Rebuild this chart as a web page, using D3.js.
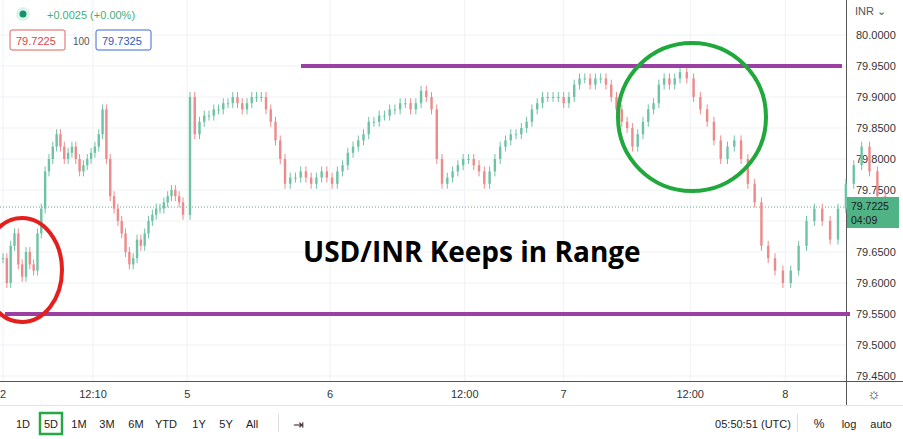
<!DOCTYPE html>
<html><head><meta charset="utf-8">
<script src="https://cdn.jsdelivr.net/npm/d3@7"></script>
<style>body{margin:0;background:#fff;font-family:"Liberation Sans",Arial,sans-serif}</style>
</head><body><div id="chart"></div>
<script>
// closing prices, one per candle (open = previous close)
const closes = [79.64,79.60,79.66,79.68,79.63,79.61,79.65,79.63,79.62,79.68,79.72,79.78,79.80,79.82,79.84,79.82,79.80,79.81,79.82,79.80,79.78,79.79,79.80,79.81,79.82,79.84,79.88,79.80,79.74,79.72,79.70,79.68,79.65,79.63,79.64,79.67,79.66,79.68,79.70,79.71,79.72,79.72,79.73,79.74,79.75,79.74,79.73,79.71,
  79.90,79.84,79.86,79.87,79.87,79.88,79.88,79.89,79.89,79.90,79.89,79.88,79.89,79.90,79.90,79.90,79.88,79.86,79.83,79.80,79.76,79.77,79.77,79.78,79.77,79.76,79.77,79.78,79.77,79.76,79.78,79.79,79.81,79.82,79.83,79.84,79.86,79.86,79.87,79.87,79.88,79.88,79.89,79.89,79.88,79.89,79.91,79.90,79.88,79.80,79.76,79.77,79.78,79.79,79.80,79.80,79.79,79.78,79.76,79.78,79.80,79.82,79.83,79.84,79.84,79.85,79.86,79.88,79.89,79.90,79.90,79.90,79.90,79.89,79.90,79.92,79.93,79.93,79.92,79.93,79.93,79.92,79.90,79.88,79.86,79.85,79.82,79.84,79.86,79.88,79.89,79.92,79.93,79.92,79.93,79.94,79.93,79.90,79.88,79.86,79.83,79.80,79.82,79.83,79.80,79.76,79.73,79.66,79.64,79.62,79.60,79.62,79.66,79.70,79.72,79.70,79.67,79.72,79.76,79.79,79.82,79.78,79.74,79.72];
// candle index -> time position anchors (sessions are uneven)
const timeAnchorIdx = [0, 47, 48, 68, 98, 143, 157, 165];
const timeAnchorPx = [3, 183, 190, 285, 442, 680, 775, 838];
const yTicks = [80.00,79.95,79.90,79.85,79.80,79.75,79.70,79.65,79.60,79.55,79.50,79.45];
const xTickLabels = ['2','12:10','5','6','12:00','7','12:00','8'];
const xTickIdx = [0, 23.5, 47.6, 76.6, 102.3, 121, 144.5, 158.3];
const rangeTop = 79.95, rangeBottom = 79.55, lastPrice = 79.7225;
const buttons = ['1D','5D','1M','3M','6M','YTD','1Y','5Y','All'];

const W = 903, H = 439;
const svg = d3.select('#chart').append('svg').attr('width', W).attr('height', H);
const x = d3.scaleLinear().domain(timeAnchorIdx).range(timeAnchorPx);
const y = d3.scaleLinear().domain([79.45, 80.0]).range([376, 35]);
const grid = '#eef1f5';

// grid
svg.append('g').selectAll('line').data(yTicks).enter().append('line')
  .attr('x1', 0).attr('x2', 846).attr('y1', d => y(d)).attr('y2', d => y(d)).attr('stroke', grid);
svg.append('g').selectAll('line').data(xTickIdx).enter().append('line')
  .attr('x1', d => x(d)).attr('x2', d => x(d)).attr('y1', 0).attr('y2', 381).attr('stroke', grid);

// right axis
svg.append('line').attr('x1', 846.5).attr('x2', 846.5).attr('y1', 0).attr('y2', 405).attr('stroke', '#555');
svg.append('line').attr('x1', 0).attr('x2', 903).attr('y1', 381.5).attr('y2', 381.5).attr('stroke', '#555');
svg.append('g').selectAll('text').data(yTicks).enter().append('text')
  .attr('x', 856).attr('y', d => y(d) + 4).attr('font-size', 11).attr('fill', '#333')
  .text(d => d.toFixed(4));
svg.append('text').attr('x', 855).attr('y', 15).attr('font-size', 11).attr('fill', '#555').text('INR ⌄');

// x axis labels
svg.append('g').selectAll('text').data(xTickIdx).enter().append('text')
  .attr('x', (d, i) => i === 0 ? 3 : x(d)).attr('y', 398).attr('text-anchor', 'middle')
  .attr('font-size', 11).attr('fill', '#333').text((d, i) => xTickLabels[i]);
svg.append('text').attr('x', 874).attr('y', 399).attr('text-anchor', 'middle').attr('font-size', 15).attr('fill', '#333').text('☼');

// last price line
svg.append('line').attr('x1', 0).attr('x2', 846).attr('y1', y(lastPrice)).attr('y2', y(lastPrice))
  .attr('stroke', '#6aa88f').attr('stroke-dasharray', '1,2');

// candles
const cw = 2.4;
const candles = svg.append('g');
closes.forEach((c, i) => {
  const o = i === 0 ? c : closes[i - 1];
  const up = c >= o;
  const col = up ? '#6fc3a5' : '#ee8a8a';
  const top = Math.max(o, c), bot = Math.min(o, c);
  candles.append('line').attr('x1', x(i)).attr('x2', x(i))
    .attr('y1', y(top + 0.008)).attr('y2', y(bot - 0.008)).attr('stroke', col).attr('stroke-width', 1);
  candles.append('rect').attr('x', x(i) - cw / 2).attr('width', cw)
    .attr('y', y(top)).attr('height', Math.max(1, y(bot) - y(top))).attr('fill', col);
});

// range lines
svg.append('line').attr('x1', 301).attr('x2', 842).attr('y1', y(rangeTop)).attr('y2', y(rangeTop))
  .attr('stroke', '#9b3fa4').attr('stroke-width', 4);
svg.append('line').attr('x1', 5).attr('x2', 850).attr('y1', y(rangeBottom)).attr('y2', y(rangeBottom))
  .attr('stroke', '#9b3fa4').attr('stroke-width', 4);

// circles
svg.append('ellipse').attr('cx', 22).attr('cy', 270).attr('rx', 40).attr('ry', 52)
  .attr('fill', 'none').attr('stroke', '#e3201d').attr('stroke-width', 4);
svg.append('ellipse').attr('cx', 692).attr('cy', 117).attr('rx', 74).attr('ry', 74)
  .attr('fill', 'none').attr('stroke', '#21a83c').attr('stroke-width', 4);

svg.append('text').attr('x', 303).attr('y', 262).attr('font-family', '"Open Sans",sans-serif')
  .attr('font-weight', 'bold').attr('font-size', 28).attr('fill', '#000').text('USD/INR Keeps in Range');

// price label
svg.append('rect').attr('x', 847).attr('y', 197).attr('width', 52).attr('height', 31).attr('fill', '#4fb386');
svg.append('text').attr('x', 851).attr('y', 210).attr('font-size', 10.5).attr('fill', '#1a1a1a').text('79.7225');
svg.append('text').attr('x', 851).attr('y', 224).attr('font-size', 10.5).attr('fill', '#1a1a1a').text('04:09');

// legend
svg.append('circle').attr('cx', 23).attr('cy', 14).attr('r', 7).attr('fill', '#dff2ec');
svg.append('circle').attr('cx', 23).attr('cy', 14).attr('r', 3.5).attr('fill', '#14946e');
svg.append('text').attr('x', 47).attr('y', 19).attr('font-size', 11).attr('fill', '#3fae7e').text('+0.0025 (+0.00%)');
svg.append('rect').attr('x', 10).attr('y', 30).attr('width', 55).attr('height', 20).attr('rx', 2)
  .attr('fill', '#fff').attr('stroke', '#e06060');
svg.append('text').attr('x', 16).attr('y', 45).attr('font-size', 11).attr('fill', '#d44').text('79.7225');
svg.append('text').attr('x', 73).attr('y', 45).attr('font-size', 10).attr('fill', '#555').text('100');
svg.append('rect').attr('x', 96).attr('y', 30).attr('width', 55).attr('height', 20).attr('rx', 2)
  .attr('fill', '#fff').attr('stroke', '#3b6bd6');
svg.append('text').attr('x', 102).attr('y', 45).attr('font-size', 11).attr('fill', '#2f58b8').text('79.7325');

// bottom toolbar
svg.append('line').attr('x1', 0).attr('x2', 903).attr('y1', 405.5).attr('y2', 405.5).attr('stroke', '#e4e4e4');
const bx = [23, 51, 79, 107, 136, 166, 199, 226, 252];
buttons.forEach((b, i) => {
  svg.append('text').attr('x', bx[i]).attr('y', 428).attr('text-anchor', 'middle')
    .attr('font-size', 11).attr('fill', '#222').text(b);
});
svg.append('rect').attr('x', 40).attr('y', 413).attr('width', 22).attr('height', 21)
  .attr('fill', 'none').attr('stroke', '#27a844').attr('stroke-width', 2.5);
svg.append('line').attr('x1', 278.5).attr('x2', 278.5).attr('y1', 414).attr('y2', 432).attr('stroke', '#ddd');
svg.append('text').attr('x', 298).attr('y', 429).attr('text-anchor', 'middle').attr('font-size', 13).attr('fill', '#333').text('⇥');
svg.append('text').attr('x', 753).attr('y', 428).attr('text-anchor', 'middle').attr('font-size', 11).attr('fill', '#222').text('05:50:51 (UTC)');
svg.append('line').attr('x1', 797.5).attr('x2', 797.5).attr('y1', 414).attr('y2', 432).attr('stroke', '#ddd');
svg.append('text').attr('x', 819).attr('y', 428).attr('text-anchor', 'middle').attr('font-size', 12).attr('fill', '#222').text('%');
svg.append('text').attr('x', 849).attr('y', 428).attr('text-anchor', 'middle').attr('font-size', 11).attr('fill', '#222').text('log');
svg.append('text').attr('x', 881).attr('y', 428).attr('text-anchor', 'middle').attr('font-size', 11).attr('fill', '#222').text('auto');
</script></body></html>
